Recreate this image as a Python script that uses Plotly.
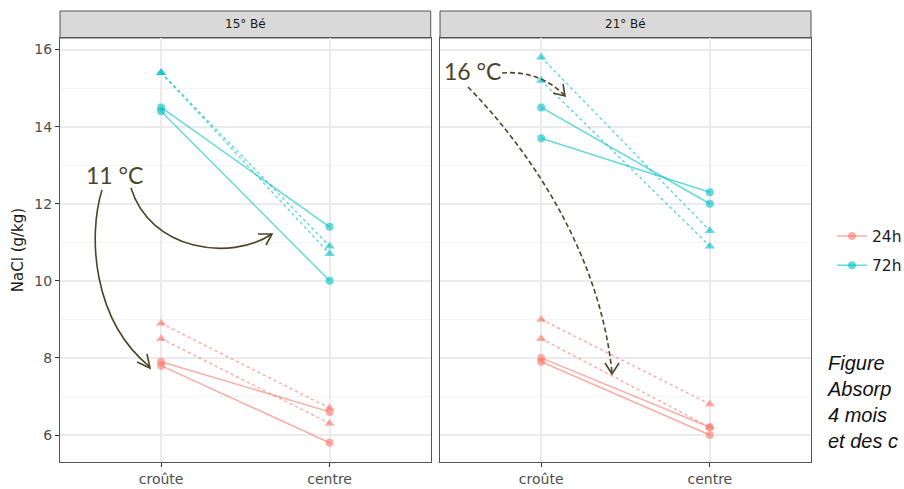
import plotly.graph_objects as go

# ---------------- data ----------------
categories = ["croûte", "centre"]
panels = ["15° Bé", "21° Bé"]
times = ["24h", "72h"]

# (croûte, centre) pairs, per panel / time / marker
p15_24h_circle = [(7.9, 6.6), (7.8, 5.8)]
p15_24h_triangle = [(8.9, 6.7), (8.5, 6.3)]
p15_72h_circle = [(14.5, 11.4), (14.4, 10.0)]
p15_72h_triangle = [(15.4, 10.9), (15.4, 10.7)]
p21_24h_circle = [(8.0, 6.2), (7.9, 6.0)]
p21_24h_triangle = [(9.0, 6.8), (8.5, 6.2)]
p21_72h_circle = [(14.5, 12.0), (13.7, 12.3)]
p21_72h_triangle = [(15.8, 11.3), (15.2, 10.9)]

y_ticks = [6, 8, 10, 12, 14, 16]
y_minor = [7, 9, 11, 13, 15]
y_title = "NaCl (g/kg)"
caption_lines = ["Figure", "Absorp", "4 mois", "et des c"]
note_a = "11 °C"
note_b = "16 °C"

series = {
    ("15° Bé", "24h"): (p15_24h_circle, p15_24h_triangle),
    ("15° Bé", "72h"): (p15_72h_circle, p15_72h_triangle),
    ("21° Bé", "24h"): (p21_24h_circle, p21_24h_triangle),
    ("21° Bé", "72h"): (p21_72h_circle, p21_72h_triangle),
}

colors = {"24h": "rgba(248,118,109,0.6)", "72h": "rgba(0,191,196,0.6)"}

# ---------------- geometry helpers (pixels -> paper) ----------------
W, H = 904, 489
PL, PR, PT, PB = 60, 811, 11, 462


def fx(px):
    return (px - PL) / (PR - PL)


def fy(py):
    return (PB - py) / (PB - PT)


fig = go.Figure()

axes = {"15° Bé": ("x", "y"), "21° Bé": ("x2", "y2")}
for panel in panels:
    xa, ya = axes[panel]
    for t in times:
        circ, tri = series[(panel, t)]
        for kind, pairs in (("circle", circ), ("triangle", tri)):
            xs, ys = [], []
            for a, b in pairs:
                xs += [categories[0], categories[1], None]
                ys += [a, b, None]
            fig.add_trace(go.Scatter(
                x=xs, y=ys, xaxis=xa, yaxis=ya,
                mode="lines+markers",
                name=t, legendgroup=t,
                showlegend=(panel == panels[0] and kind == "circle"),
                line=dict(color=colors[t], width=1.5,
                          dash="solid" if kind == "circle" else "dot"),
                marker=dict(color=colors[t],
                            symbol="circle" if kind == "circle" else "triangle-up",
                            size=8 if kind == "circle" else 9,
                            line=dict(width=0)),
                hoverinfo="skip",
            ))

xcommon = dict(type="category", categoryorder="array", categoryarray=categories,
               range=[-0.6, 1.6], showgrid=True, gridcolor="#EBEBEB", gridwidth=1.5,
               ticks="outside", ticklen=4, tickcolor="#333333", tickwidth=1,
               showline=True, mirror=True, linecolor="#555555", linewidth=1,
               zeroline=False, tickfont=dict(family="DejaVu Sans", size=14, color="#4D4D4D"))
ycommon = dict(range=[5.3, 16.3], tickmode="array", tickvals=y_ticks,
               showgrid=True, gridcolor="#EBEBEB", gridwidth=1.5,
               minor=dict(tickmode="array", tickvals=y_minor, showgrid=True,
                          gridcolor="#F3F3F3", gridwidth=1, ticks=""),
               showline=True, mirror=True, linecolor="#555555", linewidth=1,
               zeroline=False, domain=[0, fy(38)])

fig.update_layout(
    width=W, height=H,
    margin=dict(l=PL, r=W - PR, t=PT, b=H - PB, autoexpand=False),
    paper_bgcolor="white", plot_bgcolor="white",
    xaxis=dict(domain=[0, fx(430.7)], anchor="y", **xcommon),
    xaxis2=dict(domain=[fx(440), 1], anchor="y2", **xcommon),
    yaxis=dict(anchor="x", ticks="outside", ticklen=4, tickcolor="#333333",
               tickfont=dict(family="DejaVu Sans", size=14, color="#4D4D4D"),
               title=dict(text=y_title, standoff=7,
                          font=dict(family="DejaVu Sans", size=15, color="#1A1A1A")),
               **ycommon),
    yaxis2=dict(anchor="x2", matches="y", showticklabels=False, ticks="", **ycommon),
    legend=dict(x=fx(832), y=fy(251), xanchor="left", yanchor="middle",
                font=dict(family="DejaVu Sans", size=15.5, color="#1A1A1A"),
                traceorder="grouped", tracegroupgap=6, itemwidth=30,
                bgcolor="rgba(0,0,0,0)"),
    showlegend=True,
)

# facet strips
strip_bounds = {"15° Bé": (0, fx(430.7)), "21° Bé": (fx(440), 1)}
for panel in panels:
    x0, x1 = strip_bounds[panel]
    fig.add_shape(type="rect", xref="paper", yref="paper", x0=x0, x1=x1,
                  y0=fy(38), y1=1, fillcolor="#D9D9D9",
                  line=dict(color="#555555", width=1), layer="below")
    fig.add_annotation(x=(x0 + x1) / 2, y=(fy(38) + 1) / 2, xref="paper", yref="paper",
                       xanchor="center", yanchor="middle",
                       text=panel, showarrow=False,
                       font=dict(family="DejaVu Sans", size=12, color="#1A1A1A"))

# hand-drawn notes
note_color = "#4B4527"
fig.add_annotation(x=fx(114.5), y=fy(175), xref="paper", yref="paper", text=note_a,
                   xanchor="center", yanchor="middle",
                   showarrow=False, font=dict(family="Lato", size=23, color=note_color))
fig.add_annotation(x=fx(472.5), y=fy(71), xref="paper", yref="paper", text=note_b,
                   xanchor="center", yanchor="middle",
                   showarrow=False, font=dict(family="Lato", size=23, color=note_color))


def P(px, py):
    return f"{fx(px):.5f},{fy(py):.5f}"


curves = [
    ("M" + P(102, 190) + " C" + P(88, 235) + " " + P(92, 320) + " " + P(150, 367),
     "M" + P(137, 362) + " L" + P(150, 368) + " L" + P(147, 354), "solid"),
    ("M" + P(131, 188) + " C" + P(150, 250) + " " + P(230, 262) + " " + P(272, 234),
     "M" + P(258, 234) + " L" + P(272, 234) + " L" + P(266, 245), "solid"),
    ("M" + P(502, 73) + " C" + P(525, 71) + " " + P(548, 78) + " " + P(565, 96),
     "M" + P(553, 93) + " L" + P(565, 96) + " L" + P(563, 84), "5px,3px"),
    ("M" + P(468, 87) + " C" + P(525, 145) + " " + P(600, 250) + " " + P(612, 373),
     "M" + P(605, 363) + " L" + P(612, 374) + " L" + P(619, 363), "5px,3px"),
]
for path, head, dash in curves:
    fig.add_shape(type="path", xref="paper", yref="paper", path=path,
                  line=dict(color=note_color, width=1.6, dash=dash))
    fig.add_shape(type="path", xref="paper", yref="paper", path=head,
                  line=dict(color=note_color, width=1.6))

# cropped caption on the right
fig.add_annotation(x=fx(825), y=fy(350), xref="paper", yref="paper",
                   xanchor="left", yanchor="top", align="left",
                   text="<br>".join(f"<i>{s}</i>" for s in caption_lines),
                   showarrow=False,
                   font=dict(family="Liberation Sans", size=20, color="#111111"))

fig.write_html("out.html")
